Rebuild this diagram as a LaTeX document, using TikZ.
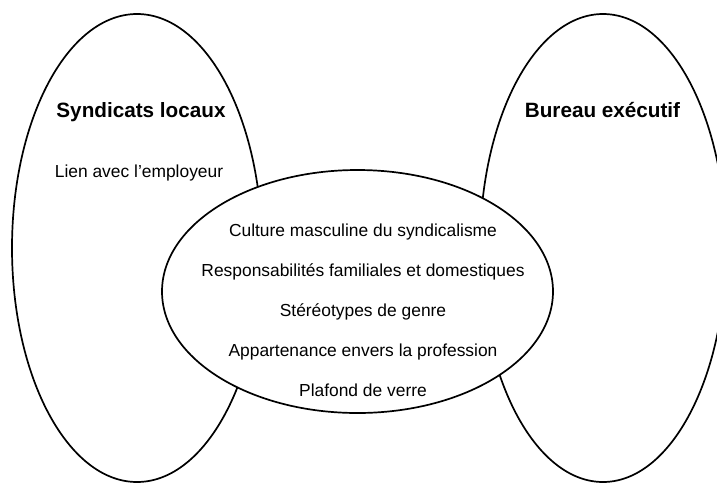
\documentclass[tikz,border=0pt]{standalone}
\usepackage{fontspec}
\setmainfont{Liberation Sans}
\usetikzlibrary{shapes.geometric}
\begin{document}
\begin{tikzpicture}[x=1pt,y=-1pt,
  group/.style={draw=black, line width=1.7pt, ellipse, inner sep=0pt},
  title/.style={anchor=base, inner sep=0pt, font=\fontsize{20.7}{24}\selectfont\bfseries},
  item/.style={anchor=base, inner sep=0pt, font=\fontsize{17.4}{21}\selectfont}]
\useasboundingbox (0,0) rectangle (717,483);
\clip (0,0) rectangle (717,483);
% the two outer groups
\node[group, minimum width=250pt, minimum height=468pt] (local) at (137,248) {};
\node[group, minimum width=246pt, minimum height=468pt] (bureau) at (603,248) {};
% the shared barriers, drawn over both groups
\node[group, fill=white, minimum width=391pt, minimum height=243pt] (shared) at (357.5,291.5) {};
% labels
\node[title] (tlocal) at (141,117) {Syndicats locaux};
\node[item] (employeur) at (139,177) {Lien avec l’employeur};
\node[title] (tbureau) at (602.5,117) {Bureau exécutif};
\node[item] (b1) at (363,236) {Culture masculine du syndicalisme};
\node[item] (b2) at (363,276) {Responsabilités familiales et domestiques};
\node[item] (b3) at (363,316) {Stéréotypes de genre};
\node[item] (b4) at (363,356) {Appartenance envers la profession};
\node[item] (b5) at (363,396) {Plafond de verre};
\end{tikzpicture}
\end{document}
